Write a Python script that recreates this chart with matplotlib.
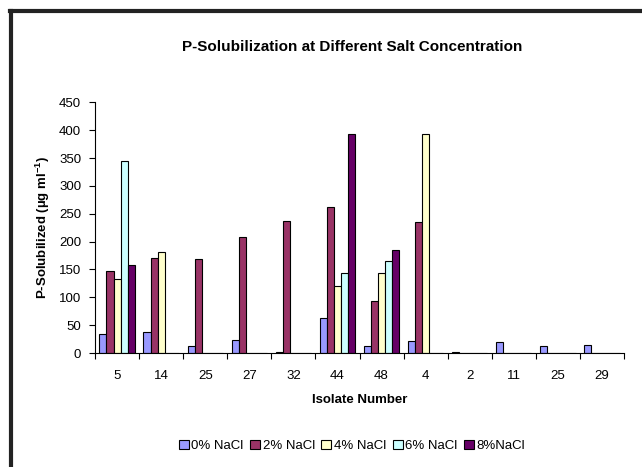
import matplotlib
matplotlib.use("Agg")
import matplotlib.pyplot as plt
import numpy as np

plt.rcParams['font.family'] = ['Liberation Sans', 'DejaVu Sans']

isolates = ["5", "14", "25", "27", "32", "44", "48", "4", "2", "11", "25", "29"]
series_names = ["0% NaCl", "2% NaCl", "4% NaCl", "6% NaCl", "8%NaCl"]
nacl_0 = [34, 37, 12, 24, 2, 62, 12, 21, 2, 19, 12, 14]
nacl_2 = [147, 170, 169, 208, 237, 262, 93, 235, 0, 0, 0, 0]
nacl_4 = [133, 181, 0, 0, 0, 120, 143, 393, 0, 0, 0, 0]
nacl_6 = [345, 0, 0, 0, 0, 143, 165, 0, 0, 0, 0, 0]
nacl_8 = [158, 0, 0, 0, 0, 393, 185, 0, 0, 0, 0, 0]
colors = ["#9999FF", "#993366", "#FFFFCC", "#CCFFFF", "#660066"]

W, H = 642, 467
fig = plt.figure(figsize=(W / 100, H / 100), dpi=100)

# outer chart frame (left and top edges visible)
fig.add_artist(plt.Line2D([11 / W, 11 / W], [0, 1 - 10.5 / H], color="#222222", lw=3,
                          transform=fig.transFigure))
fig.add_artist(plt.Line2D([9.5 / W, 1], [1 - 10.5 / H, 1 - 10.5 / H], color="#222222", lw=3,
                          transform=fig.transFigure))

ax = fig.add_axes([95 / W, 1 - 353 / H, (624 - 95) / W, (353 - 102.3) / H])

all_series = [nacl_0, nacl_2, nacl_4, nacl_6, nacl_8]
n = len(isolates)
x = np.arange(n)
bw = 0.16
for i, (vals, c, name) in enumerate(zip(all_series, colors, series_names)):
    offs = (i - 2) * bw
    ax.bar(x + offs, vals, width=bw, color=c, edgecolor="black", linewidth=0.8, label=name)

ax.set_xlim(-0.5, n - 0.5)
ax.set_ylim(0, 450)
ax.set_yticks(np.arange(0, 451, 50))
ax.set_xticks(np.arange(-0.5, n, 1.0))
ax.set_xticklabels([])
ax.set_xticks(x, minor=True)
ax.set_xticklabels(isolates, minor=True)
ax.tick_params(axis="x", which="major", direction="out", length=4, width=0.8)
ax.tick_params(axis="x", which="minor", length=0, pad=12, labelsize=9.5)
ax.tick_params(axis="y", direction="out", length=4, width=0.8, labelsize=9.5, pad=6)
for s in ["top", "right"]:
    ax.spines[s].set_visible(False)
for s in ["left", "bottom"]:
    ax.spines[s].set_linewidth(0.8)

ax.set_xlabel("Isolate Number", fontsize=9.5, fontweight="bold", labelpad=9)
ax.set_ylabel("P-Solubilized (µg ml$^{\\mathregular{-1}}$)", fontsize=9.5, fontweight="bold",
              labelpad=5)

fig.text(352 / W, 1 - 47 / H, "P-Solubilization at Different Salt Concentration",
         ha="center", va="center", fontsize=11, fontweight="bold")

ax.legend(loc="center", bbox_to_anchor=(352 / W, 1 - 446 / H), bbox_transform=fig.transFigure,
          ncol=5, frameon=False, fontsize=9.5, handlelength=0.75, handleheight=0.75,
          handletextpad=0.2, columnspacing=0.5)

fig.savefig("out.png", dpi=100, facecolor="white")
